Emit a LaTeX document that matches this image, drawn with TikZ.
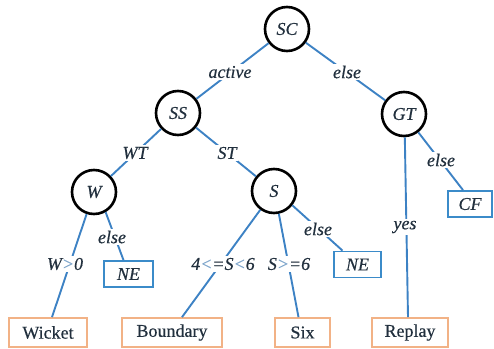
\documentclass[tikz,border=0pt]{standalone}
\usepackage{fontspec}
\setmainfont{Liberation Serif}[FakeBold=0.4]
\definecolor{edgeblue}{HTML}{3D82C4}
\definecolor{boxblue}{HTML}{3B8BC9}
\definecolor{leaforange}{HTML}{F2B286}
\definecolor{ink}{HTML}{22303E}
\definecolor{symb}{HTML}{7FA6CC}
\tikzset{
  txt/.style={font=\fontsize{18}{21}\selectfont, text=ink},
  dnode/.style={txt, circle, draw=black, line width=2.6pt, minimum size=44pt,
    inner sep=0pt, fill=white, font=\fontsize{18}{21}\selectfont\itshape},
  outbox/.style={txt, draw=boxblue, line width=1.8pt, minimum height=26pt,
    inner sep=0pt, fill=white, font=\fontsize{18}{21}\selectfont\itshape},
  leaf/.style={txt, draw=leaforange, line width=1.7pt, minimum height=29pt,
    inner sep=0pt, fill=white},
  branch/.style={draw=edgeblue, line width=1.9pt},
  cond/.style={txt, fill=white, inner sep=1.5pt, font=\fontsize{18}{21}\selectfont\itshape}
}
\begin{document}
\begin{tikzpicture}[x=1pt,y=-1pt]
  \useasboundingbox (0,0) rectangle (494,348);

  % decision nodes
  \node[dnode] (SC) at (287,29)  {SC};
  \node[dnode] (SS) at (178,113) {SS};
  \node[dnode] (GT) at (404,114) {GT};
  \node[dnode] (W)  at (94,192)  {W};
  \node[dnode] (S)  at (274,191) {S};

  % outcome boxes
  \node[outbox, minimum width=44pt] (CF)  at (470,204) {CF};
  \node[outbox, minimum width=49pt] (NE1) at (128.5,274) {NE};
  \node[outbox, minimum width=47pt] (NE2) at (357.5,264.5) {NE};
  \node[leaf, minimum width=78pt]  (Wk) at (48,332.5)  {Wicket};
  \node[leaf, minimum width=100pt] (Bd) at (172,332.5) {Boundary};
  \node[leaf, minimum width=55pt]  (Sx) at (302.5,332.5) {Six};
  \node[leaf, minimum width=76pt]  (Rp) at (410,332.5) {Replay};

  % branches
  \draw[branch] (SC) -- (SS);
  \draw[branch] (SC) -- (GT);
  \draw[branch] (SS) -- (W);
  \draw[branch] (SS) -- (S);
  \draw[branch] (GT.-52) -- ([xshift=-7pt]CF.north);
  \draw[branch] (GT.-88) -- ([xshift=-2pt]Rp.north);
  \draw[branch] (W) -- ([xshift=4pt]Wk.north);
  \draw[branch] (W.-60) -- ([xshift=-5pt]NE1.north);
  \draw[branch] (S) -- ([xshift=10pt]Bd.north);
  \draw[branch] (S.-78) -- ([xshift=-4pt]Sx.north);
  \draw[branch] (S.-38) -- ([xshift=-15pt]NE2.north);

  % branch conditions
  \node[cond] (cActive) at (230,72)  {active};
  \node[cond] (cElse1)  at (347,72)  {else};
  \node[cond] (cWT)     at (135,153) {WT};
  \node[cond] (cST)     at (227,153) {ST};
  \node[cond] (cElse2)  at (441,160) {else};
  \node[cond] (cYes)    at (405,227) {yes};
  \node[cond] (cW)      at (65,264)  {W\textcolor{symb}{>}0};
  \node[cond] (cElse3)  at (112,237) {else};
  \node[cond] (cB)      at (223,264) {4\textcolor{symb}{<}=S\textcolor{symb}{<}6};
  \node[cond] (cSx)     at (289,264) {S\textcolor{symb}{>}=6};
  \node[cond] (cElse4)  at (318,229) {else};
\end{tikzpicture}
\end{document}
